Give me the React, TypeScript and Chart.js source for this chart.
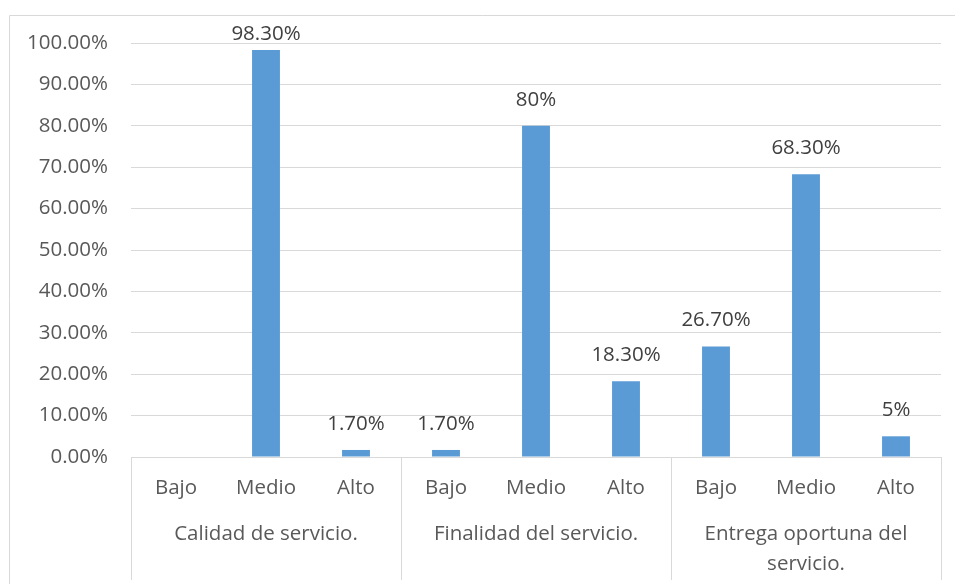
import React, { useEffect, useRef } from "react";
import { Chart, registerables } from "chart.js";

Chart.register(...registerables);

const categories = ["Bajo", "Medio", "Alto", "Bajo", "Medio", "Alto", "Bajo", "Medio", "Alto"];
const groups = [["Calidad de servicio."], ["Finalidad del servicio."], ["Entrega oportuna del", "servicio."]];
const groupSize = 3;
const values = [0, 98.3, 1.7, 1.7, 80, 18.3, 26.7, 68.3, 5];
const valueLabels = [null, "98.30%", "1.70%", "1.70%", "80%", "18.30%", "26.70%", "68.30%", "5%"];
const yTicks = [0, 10, 20, 30, 40, 50, 60, 70, 80, 90, 100];

const FONT = "'Open Sans', Lato, sans-serif";
const FS = 20.5;
const TICK_COLOR = "#595959";
const LABEL_COLOR = "#404040";
const LINE_COLOR = "#d9d9d9";

const W = 955;
const H = 586;

const framePlugin = {
  id: "frame",
  beforeDraw(chart: any) {
    const ctx = chart.ctx;
    ctx.save();
    ctx.fillStyle = "#ffffff";
    ctx.fillRect(0, 0, chart.width, chart.height);
    ctx.strokeStyle = LINE_COLOR;
    ctx.lineWidth = 1;
    ctx.beginPath();
    ctx.moveTo(9.5, 584);
    ctx.lineTo(9.5, 15.5);
    ctx.lineTo(W, 15.5);
    ctx.stroke();
    ctx.restore();
  },
};

const groupPlugin = {
  id: "groups",
  afterDraw(chart: any) {
    const ctx = chart.ctx;
    const x = chart.scales.x;
    const area = chart.chartArea;
    const half = (x.getPixelForValue(1) - x.getPixelForValue(0)) / 2;
    ctx.save();
    ctx.strokeStyle = LINE_COLOR;
    ctx.lineWidth = 1;
    const nG = groups.length;
    for (let g = 0; g <= nG; g++) {
      const idx = Math.min(g * groupSize, categories.length - 1);
      const px = g < nG ? x.getPixelForValue(idx) - half : x.getPixelForValue(idx) + half;
      const xx = Math.round(px) + 0.5;
      ctx.beginPath();
      ctx.moveTo(xx, area.bottom);
      ctx.lineTo(xx, 580);
      ctx.stroke();
    }
    ctx.fillStyle = TICK_COLOR;
    ctx.font = `${FS}px ${FONT}`;
    ctx.textAlign = "center";
    ctx.textBaseline = "middle";
    groups.forEach((lines, g) => {
      const a = x.getPixelForValue(g * groupSize);
      const b = x.getPixelForValue(g * groupSize + groupSize - 1);
      const cx = (a + b) / 2;
      lines.forEach((t, i) => {
        ctx.fillText(t, cx, 534 + i * 30);
      });
    });
    ctx.restore();
  },
};

const labelPlugin = {
  id: "valueLabels",
  afterDatasetsDraw(chart: any) {
    const ctx = chart.ctx;
    const meta = chart.getDatasetMeta(0);
    ctx.save();
    ctx.fillStyle = LABEL_COLOR;
    ctx.font = `${FS}px ${FONT}`;
    ctx.textAlign = "center";
    ctx.textBaseline = "middle";
    meta.data.forEach((bar: any, i: number) => {
      const t = valueLabels[i];
      if (!t) return;
      const y = Math.max(bar.y - 26, 34);
      ctx.fillText(t, bar.x, y);
    });
    ctx.restore();
  },
};

export default function App() {
  const ref = useRef<HTMLCanvasElement>(null);
  useEffect(() => {
    if (!ref.current) return;
    const chart = new Chart(ref.current, {
      type: "bar",
      data: {
        labels: categories,
        datasets: [
          {
            data: values,
            backgroundColor: "#5b9bd5",
            borderWidth: 0,
            barPercentage: 0.62,
            categoryPercentage: 0.5,
          },
        ],
      },
      options: {
        responsive: false,
        animation: false,
        devicePixelRatio: 1,
        layout: { padding: { top: 43, right: 14, bottom: 0, left: 0 } },
        plugins: { legend: { display: false }, tooltip: { enabled: false } },
        scales: {
          x: {
            grid: { display: false, drawTicks: false },
            border: { display: true, color: LINE_COLOR },
            ticks: {
              color: TICK_COLOR,
              font: { family: FONT, size: FS },
              padding: 19,
              maxRotation: 0,
              autoSkip: false,
            },
            afterFit(s: any) {
              s.height = H - 457;
            },
          },
          y: {
            min: 0,
            max: 100,
            afterBuildTicks(s: any) {
              s.ticks = yTicks.map((v) => ({ value: v }));
            },
            grid: { color: LINE_COLOR, drawTicks: false },
            border: { display: false },
            ticks: {
              color: TICK_COLOR,
              font: { family: FONT, size: FS },
              padding: 23,
              callback: (v: any) => Number(v).toFixed(2) + "%",
            },
            afterFit(s: any) {
              s.width = 131;
            },
          },
        },
      },
      plugins: [framePlugin, groupPlugin, labelPlugin],
    });
    return () => chart.destroy();
  }, []);
  return (
    <div style={{ position: "absolute", left: 0, top: 0, width: W, height: H }}>
      <canvas ref={ref} width={W} height={H} style={{ display: "block" }} />
    </div>
  );
}
